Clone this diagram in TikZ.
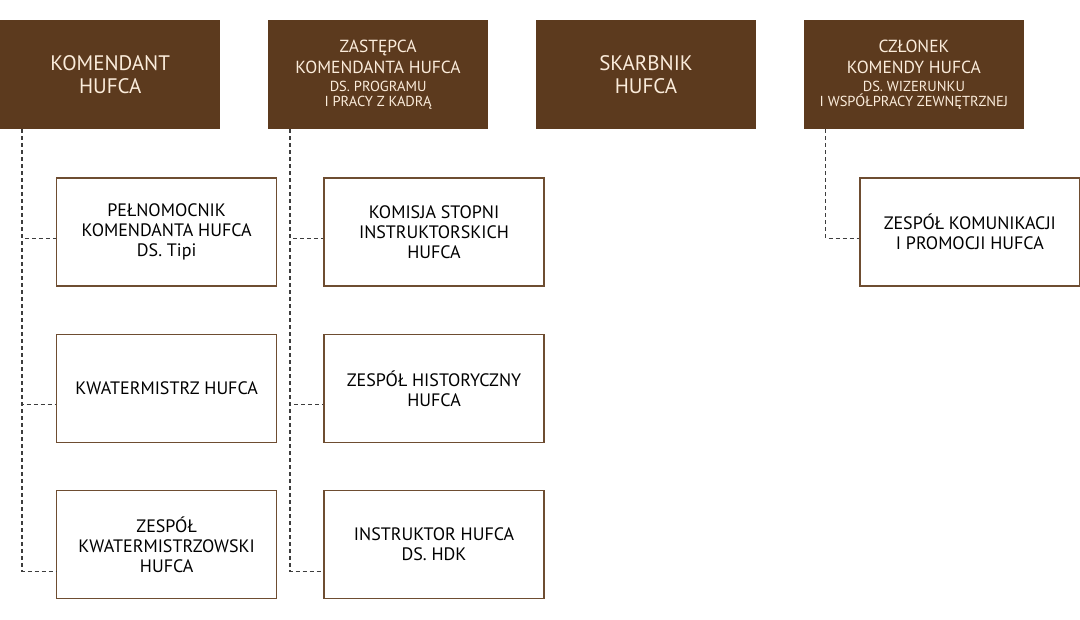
\documentclass[tikz,border=0pt]{standalone}
\usepackage{fontspec}
\setmainfont{PT Sans}
\usetikzlibrary{positioning}
\definecolor{5c3a1e}{HTML}{5C3A1E}
\definecolor{fbecdb}{HTML}{FBECDB}
\definecolor{6e4d31}{HTML}{6E4D31}
\definecolor{3d3d3d}{HTML}{3D3D3D}
\begin{document}
\begin{tikzpicture}[>=latex,x=1pt,y=1pt,
    head/.style={fill=5c3a1e,text=fbecdb,minimum width=220pt,minimum height=109pt,inner sep=0,align=center,font=\fontsize{17.5}{21.5}\selectfont},
    bighead/.style={head,font=\fontsize{21}{23}\selectfont},
    unit/.style={draw=6e4d31,line width=1.3pt,fill=white,minimum width=220pt,minimum height=108pt,inner sep=0,align=center,font=\fontsize{18}{20}\selectfont},
    link/.style={3d3d3d,dash pattern=on 4pt off 3pt,line width=1.3pt}]
    \newcommand{\GAP}{47.5pt}
    \newcommand{\DS}[1]{{\fontsize{14.5}{15}\selectfont#1}}
    \useasboundingbox(0,0)rectangle(1080,-620);
    % top row
    \node[bighead,anchor=north west](kom)at(0,-20){KOMENDANT\\HUFCA};
    \node[head,right=\GAP of kom](zast){ZASTĘPCA\\KOMENDANTA HUFCA\\[-4pt]\DS{DS. PROGRAMU}\\[-6pt]\DS{I PRACY Z KADRĄ}};
    \node[bighead,right=\GAP of zast](skarb){SKARBNIK\\HUFCA};
    \node[head,right=\GAP of skarb](czl){CZŁONEK\\KOMENDY HUFCA\\[-4pt]\DS{DS. WIZERUNKU}\\[-6pt]\DS{I WSPÓŁPRACY ZEWNĘTRZNEJ}};
    % units
    \node[unit,below right=48pt and 56pt of kom.south west](pel){PEŁNOMOCNIK\\KOMENDANTA HUFCA\\DS. Tipi};
    \node[unit,below=47pt of pel](kwat){KWATERMISTRZ HUFCA};
    \node[unit,below=47pt of kwat](zkw){ZESPÓŁ\\KWATERMISTRZOWSKI\\HUFCA};
    \node[unit,below right=48pt and 55.5pt of zast.south west](kom-s){KOMISJA STOPNI\\INSTRUKTORSKICH\\HUFCA};
    \node[unit,below=47pt of kom-s](hist){ZESPÓŁ HISTORYCZNY\\HUFCA};
    \node[unit,below=47pt of hist](hdk){INSTRUKTOR HUFCA\\DS. HDK};
    \node[unit,below right=48pt and 55.5pt of czl.south west](prom){ZESPÓŁ KOMUNIKACJI\\I PROMOCJI HUFCA};
    % links
    \draw[link]([xshift=22pt]kom.south west)|-([yshift=-6.5pt]pel.west);
    \draw[link]([xshift=22pt]kom.south west)|-([yshift=-16.5pt]kwat.west);
    \draw[link]([xshift=22pt]kom.south west)|-([yshift=-27pt]zkw.west);
    \draw[link]([xshift=22pt]zast.south west)|-([yshift=-6.5pt]kom-s.west);
    \draw[link]([xshift=22pt]zast.south west)|-([yshift=-16.5pt]hist.west);
    \draw[link]([xshift=22pt]zast.south west)|-([yshift=-27pt]hdk.west);
    \draw[link]([xshift=22pt]czl.south west)|-([yshift=-6.5pt]prom.west);
\end{tikzpicture}
\end{document}
